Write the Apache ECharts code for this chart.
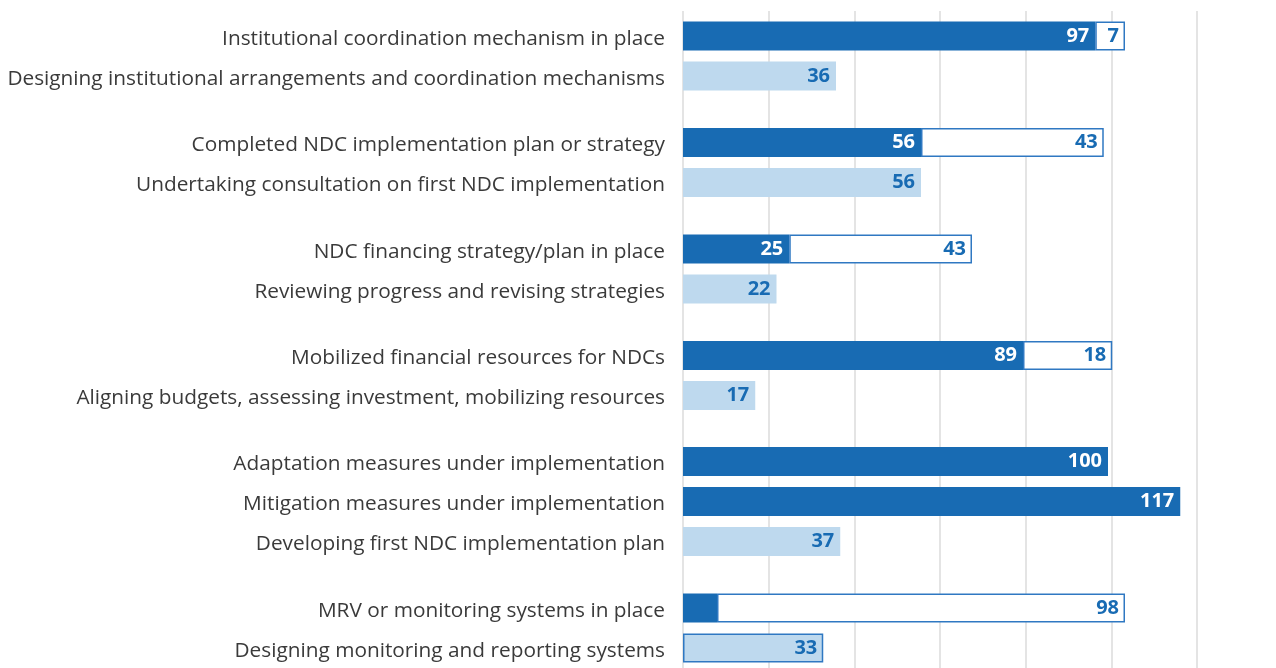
<!DOCTYPE html>
<html>
<head>
<meta charset="utf-8">
<script src="https://cdn.jsdelivr.net/npm/echarts@6/dist/echarts.min.js"></script>
<style>
  html, body { margin: 0; padding: 0; background: #fff; }
  #chart { width: 1276px; height: 668px; }
</style>
</head>
<body>
<div id="chart"></div>
<script>
const categories = [
  'Institutional coordination mechanism in place',
  'Designing institutional arrangements and coordination mechanisms',
  'Completed NDC implementation plan or strategy',
  'Undertaking consultation on first NDC implementation',
  'NDC financing strategy/plan in place',
  'Reviewing progress and revising strategies',
  'Mobilized financial resources for NDCs',
  'Aligning budgets, assessing investment, mobilizing resources',
  'Adaptation measures under implementation',
  'Mitigation measures under implementation',
  'Developing first NDC implementation plan',
  'MRV or monitoring systems in place',
  'Designing monitoring and reporting systems'
];
const groupSizes = [2, 2, 2, 2, 3, 2];

// bar lengths as drawn in the source
const done = [97, null, 56, null, 25, null, 80, null, 100, 117, null, 8, null];
const extra = [7, null, 43, null, 43, null, 21, null, null, null, null, 96, null];
const staged = [null, 36, null, 56, null, 22, null, 17, null, null, 37, null, 33];
// printed numbers where they differ from the drawn length
const doneText = { 6: '89', 11: '' };
const extraText = { 6: '18', 11: '98' };
const outlinedStaged = [12];

const xTicks = [0, 20, 40, 60, 80, 100, 120];

const DARK = '#186bb3';
const LIGHT = '#bed9ee';
const LINE = '#2f78c2';
const FONT = '"Open Sans", sans-serif';

const groupTops = [16, 122.5, 229, 335.5, 441.5, 588];
const rowH = 40;

const grid = [{ left: 683, right: 79, top: 11, bottom: 0 }];
const xAxis = [{
  gridIndex: 0, type: 'value', min: xTicks[0], max: xTicks[xTicks.length - 1],
  interval: xTicks[1] - xTicks[0],
  axisLabel: { show: false }, axisLine: { show: false }, axisTick: { show: false },
  splitLine: { lineStyle: { color: '#e4e4e4', width: 2 } }
}];
const yAxis = [{ gridIndex: 0, type: 'value', show: false }];
const series = [];

const valueLabel = (color) => ({
  show: true, position: 'insideRight', distance: 6,
  color, fontFamily: FONT, fontWeight: 'bold', fontSize: 20
});

let start = 0;
groupSizes.forEach((n, g) => {
  const idx = g + 1;
  const slice = (arr) => arr.slice(start, start + n);
  const offset = start;
  grid.push({ left: 683, right: 83, top: groupTops[g], height: n * rowH });
  xAxis.push({ gridIndex: idx, type: 'value', min: 0, max: 120, show: false });
  yAxis.push({
    gridIndex: idx, type: 'category', inverse: true, data: slice(categories),
    axisLine: { show: false }, axisTick: { show: false },
    axisLabel: {
      margin: 18,
      formatter: (v) => '{t|' + v + '}',
      rich: {
        t: {
          color: '#3a3a3a', fontSize: 20.8, fontFamily: FONT,
          padding: [6, 0, 0, 0]
        }
      }
    }
  });

  const stack = 'g' + g;
  series.push({
    type: 'bar', xAxisIndex: idx, yAxisIndex: idx, stack, barWidth: 29,
    data: slice(done),
    itemStyle: { color: DARK },
    label: {
      ...valueLabel('#fff'),
      formatter: (p) => (doneText[offset + p.dataIndex] ?? String(p.value))
    }
  });
  series.push({
    type: 'bar', xAxisIndex: idx, yAxisIndex: idx, stack, barWidth: 29,
    data: slice(extra),
    itemStyle: { color: '#fff', borderColor: LINE, borderWidth: 1.5 },
    label: {
      ...valueLabel(DARK),
      formatter: (p) => (extraText[offset + p.dataIndex] ?? String(p.value))
    }
  });
  series.push({
    type: 'bar', xAxisIndex: idx, yAxisIndex: idx, stack, barWidth: 29,
    data: slice(staged).map((v, i) => outlinedStaged.includes(offset + i)
      ? { value: v, itemStyle: { borderColor: LINE, borderWidth: 1.5 } }
      : v),
    itemStyle: { color: LIGHT },
    label: valueLabel(DARK)
  });
  start += n;
});

const chart = echarts.init(document.getElementById('chart'), null, { renderer: 'canvas' });
chart.setOption({
  animation: false,
  grid, xAxis, yAxis, series
});
</script>
</body>
</html>
